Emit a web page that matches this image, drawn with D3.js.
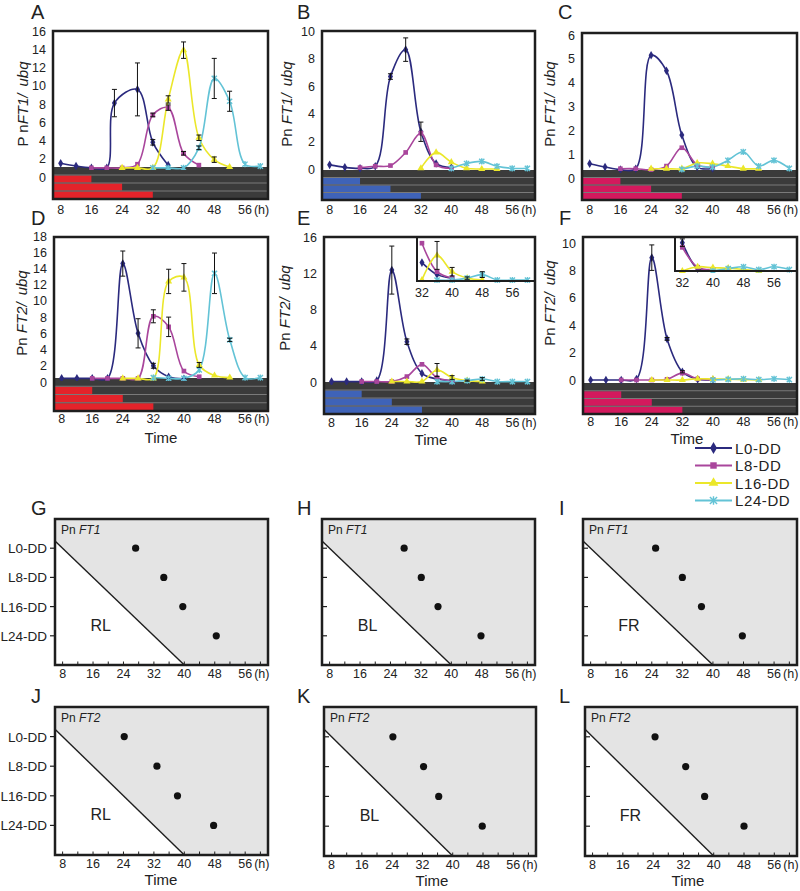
<!DOCTYPE html>
<html><head><meta charset="utf-8">
<script src="https://cdn.jsdelivr.net/npm/d3@7"></script>
<style>body{margin:0;background:#fff}</style>
</head><body><script>
// ---------------- DATA ----------------
const seriesNames = ["L0-DD","L8-DD","L16-DD","L24-DD"];
const xTickHours = [8,16,24,32,40,48,56];
const insetTickHours = [32,40,48,56];
const lightEnd = [null,16,24,32];          // end of light period per row (L0-DD: no light)
const boundaryHours = [8,16,24,32,40];      // light-off boundary line in G-L
// time courses: [hour, value, error]
const A_L0 = [[8,1.5],[12,1.2],[16,1.0],[20,1.0],[22,8.1,1.5],[28,9.6,2.9],[32,3.8,0.3],[36,1.3]];
const A_L8 = [[16,1.0],[20,1.0],[24,1.0],[28,1.4],[32,6.8,0.2],[36,7.6,0.3],[40,2.6,0.2],[44,1.3]];
const A_L16 = [[24,1.0],[28,1.0],[32,1.0],[36,8.5,0.4],[40,13.9,0.9],[44,4.3,0.3],[48,1.9,0.3],[52,1.1]];
const A_L24 = [[32,1.0],[36,1.0],[40,1.0],[44,3.2,0.2],[48,10.8,2.2],[52,8.3,1.1],[56,1.4],[60,1.2]];

const B_L0 = [[8,0.3],[12,0.12],[16,0.05],[20,0.2],[24,6.7,0.2],[28,8.65,0.85],[32,2.7,0.7],[36,0.4],[40,0.1]];
const B_L8 = [[16,0.1],[20,0.2],[24,0.25],[28,1.2],[32,2.6],[36,0.3],[40,0.05]];
const B_L16 = [[32,0.05],[36,1.2],[40,0.5],[44,0.05],[48,0.0],[52,0.0]];
const B_L24 = [[40,0.05],[44,0.4],[48,0.55],[52,0.2],[56,0.05],[60,0.05]];

const C_L0 = [[8,0.6],[12,0.46],[16,0.35],[20,0.39],[24,5.15],[28,4.5],[32,1.8],[36,0.46],[40,0.4]];
const C_L8 = [[16,0.39],[20,0.39],[24,0.35],[28,0.5],[32,1.27],[36,0.55],[40,0.45]];
const C_L16 = [[24,0.39],[28,0.39],[32,0.39],[36,0.63],[40,0.6],[44,0.5],[48,0.39],[52,0.39]];
const C_L24 = [[32,0.36],[36,0.5],[40,0.46],[44,0.74],[48,1.1],[52,0.5],[56,0.74],[60,0.4]];

const D_L0 = [[8,0.45],[12,0.45],[16,0.45],[20,0.45],[24,14.6,1.55],[28,6.0,1.8],[32,2.0,0.3],[36,0.65],[40,0.4]];
const D_L8 = [[16,0.45],[20,0.45],[24,0.45],[28,0.45],[32,8.1,0.8],[36,6.8,1.2],[40,1.35],[44,0.65]];
const D_L16 = [[24,0.45],[28,0.45],[32,0.45],[36,12.4,1.5],[40,12.9,1.7],[44,2.1,0.3],[48,0.8],[52,0.55]];
const D_L24 = [[32,0.55],[36,0.45],[40,0.45],[44,1.5],[48,13.4,2.5],[52,5.2,0.2],[56,0.55],[60,0.55]];

const E_L0 = [[8,0.05],[12,0.05],[16,0.05],[20,0.15],[24,12.35,2.65],[28,4.45,0.3],[32,0.95],[36,0.33],[40,0.15]];
const E_L8 = [[16,0.05],[20,0.05],[24,0.05],[28,0.6],[32,1.95],[36,0.48],[40,0.15]];
const E_L16 = [[24,0.05],[28,0.05],[32,0.05],[36,1.32,0.72],[40,0.48,0.22],[44,0.15],[48,0.05]];
const E_L24 = [[36,0.05],[40,0.05],[44,0.15,0.06],[48,0.33,0.15],[52,0.05],[56,0.05],[60,0.05]];

const F_L0 = [[8,0.0],[12,0.0],[16,0.0],[20,0.07],[24,8.93,0.93],[28,3.0,0.1],[32,0.6,0.08],[36,0.05],[40,0.02]];
const F_L8 = [[16,0.0],[20,0.0],[24,0.0],[28,0.05],[32,0.5],[36,0.08],[40,0.03]];
const F_L16 = [[24,0.0],[28,0.0],[32,0.0],[36,0.09],[40,0.07],[44,0.06],[48,0.03],[52,0.0]];
const F_L24 = [[40,0.0],[44,0.05],[48,0.09],[52,0.03],[56,0.09],[60,0.03]];

// peak times (h) for L0, L8, L16, L24
const G_PEAK = [27.2,34.6,39.6,48.4];
const H_PEAK = [27.6,32.1,36.5,47.8];
const I_PEAK = [25.0,32.0,37.0,47.7];
const J_PEAK = [24.2,32.8,38.2,47.7];
const K_PEAK = [24.2,32.3,36.3,47.8];
const L_PEAK = [24.5,32.6,37.6,48.0];

const yTicksA = [0,2,4,6,8,10,12,14,16];
const yTicksB = [0,2,4,6,8,10];
const yTicksC = [0,1,2,3,4,5,6];
const yTicksD = [0,2,4,6,8,10,12,14,16,18];
const yTicksE = [0,4,8,12,16];
const yTicksF = [0,2,4,6,8,10];

// ---------------- STYLE ----------------
const FONT = '"Liberation Sans", Arial, Helvetica, sans-serif';
const COLORS = ["#2b2a7e","#a9469c","#ebe72a","#63c3d6"];
const SHAPES = ["diamond","square","triangle","times"];
const DARK = "#3b3b3b";
const FRAME = "#1e1e1e";
const HOUR_DOMAIN = [6,62];

const svg = d3.select("body").append("svg")
  .attr("width",800).attr("height",891)
  .style("font-family",FONT);

function drawMarker(g, shape, cx, cy, s, color){
  if (shape==="times"){
    g.append("path").attr("d",`M${cx-s},${cy-s}L${cx+s},${cy+s}M${cx-s},${cy+s}L${cx+s},${cy-s}M${cx},${cy-s*1.2}L${cx},${cy+s*1.2}`)
      .attr("stroke",color).attr("stroke-width",1.4).attr("fill","none");
    return;
  }
  const type = shape==="diamond"?d3.symbolDiamond:shape==="square"?d3.symbolSquare:d3.symbolTriangle;
  g.append("path").attr("d",d3.symbol().type(type).size(s*s*3.2)())
    .attr("transform",`translate(${cx},${cy})`).attr("fill",color);
}

let clipId = 0;
function clip(x0,y0,w,h){
  const id = "c"+(clipId++);
  svg.append("clipPath").attr("id",id).append("rect").attr("x",x0).attr("y",y0).attr("width",w).attr("height",h);
  return `url(#${id})`;
}

function drawSeries(g, x, y, data, minHour){
  data.forEach((ser,i)=>{
    const pts = ser.filter(d=>d[0]>=minHour);
    const line = d3.line().x(d=>x(d[0])).y(d=>y(d[1])).curve(d3.curveCatmullRom.alpha(0.5));
    g.append("path").attr("d",line(pts)).attr("fill","none").attr("stroke",COLORS[i]).attr("stroke-width",1.6);
  });
  data.forEach((ser,i)=>{
    ser.filter(d=>d[0]>=minHour).forEach(d=>{
      drawMarker(g, SHAPES[i], x(d[0]), y(d[1]), 2.6, COLORS[i]);
    });
  });
  data.forEach(ser=>{
    ser.filter(d=>d[0]>=minHour && d[2]).forEach(d=>{
      const cx=x(d[0]), y1=y(d[1]+d[2]), y2=y(d[1]-d[2]);
      g.append("path").attr("d",`M${cx},${y1}L${cx},${y2}M${cx-2.5},${y1}L${cx+2.5},${y1}M${cx-2.5},${y2}L${cx+2.5},${y2}`)
        .attr("stroke","#111").attr("stroke-width",1).attr("fill","none");
    });
  });
}

function ylabelText(x, y, prefix, gene){
  const t = svg.append("text").attr("transform",`translate(${x},${y}) rotate(-90)`)
    .attr("text-anchor","middle").attr("font-size",15).attr("fill","#222");
  t.append("tspan").text(prefix);
  t.append("tspan").attr("font-style","italic").text(gene+"/");
  t.append("tspan").attr("font-style","italic").attr("dx",7).text("ubq");
}

function letter(x,y,s){
  svg.append("text").attr("x",x).attr("y",y).attr("font-size",20).attr("fill","#222").text(s);
}

function drawTimeCourse(p){
  const g = svg.append("g");
  const x = d3.scaleLinear().domain(HOUR_DOMAIN).range([p.left,p.right]);
  const y = d3.scaleLinear().domain([0,p.ymax]).range([p.y0,p.yTopPx]);
  // light/dark band
  const rowH = (p.bandBottom-p.bandTop)/4;
  g.append("rect").attr("x",p.left).attr("y",p.bandTop).attr("width",p.right-p.left).attr("height",p.bandBottom-p.bandTop).attr("fill",DARK);
  lightEnd.forEach((h,i)=>{
    if(h!==null){
      g.append("rect").attr("x",p.left).attr("y",p.bandTop+i*rowH+0.5).attr("width",x(h)-p.left).attr("height",rowH-1).attr("fill",p.bandColor);
    }
    if(i>0) g.append("line").attr("x1",p.left).attr("x2",p.right).attr("y1",p.bandTop+i*rowH).attr("y2",p.bandTop+i*rowH).attr("stroke","#8a8a8a").attr("stroke-width",0.8);
  });
  // series
  const sg = g.append("g").attr("clip-path",clip(p.left,p.top,p.right-p.left,p.bandTop-p.top+3));
  drawSeries(sg,x,y,p.data,0);
  // inset
  if(p.inset){
    const q=p.inset;
    const yi = d3.scaleLinear().domain([0,q.ymax]).range([q.bottom,q.top]);
    g.append("rect").attr("x",q.left).attr("y",q.top).attr("width",p.right-q.left).attr("height",q.bottom-q.top).attr("fill","#fff");
    const ig = g.append("g").attr("clip-path",clip(q.left,q.top,p.right-q.left,q.bottom-q.top+2));
    drawSeries(ig,x,yi,p.data,32);
    g.append("path").attr("d",`M${q.left},${q.top}L${q.left},${q.bottom}L${p.right},${q.bottom}`)
      .attr("fill","none").attr("stroke",FRAME).attr("stroke-width",2);
    insetTickHours.forEach(h=>{
      g.append("text").attr("x",x(h)).attr("y",q.bottom+16).attr("text-anchor","middle").attr("font-size",12.5).attr("fill","#222").text(h);
    });
  }
  // frame
  g.append("rect").attr("x",p.left).attr("y",p.top).attr("width",p.right-p.left).attr("height",p.bandBottom-p.top)
    .attr("fill","none").attr("stroke",FRAME).attr("stroke-width",2.5);
  // y tick labels
  p.yTicks.forEach(v=>{
    g.append("text").attr("x",p.left-7).attr("y",y(v)+4.5).attr("text-anchor","end").attr("font-size",12.5).attr("fill","#222").text(v);
  });
  // x tick labels
  xTickHours.forEach(h=>{
    g.append("text").attr("x",x(h)).attr("y",p.xlabY).attr("text-anchor","middle").attr("font-size",12.5).attr("fill","#222").text(h);
  });
  g.append("text").attr("x",x(56)+9).attr("y",p.xlabY).attr("font-size",12.5).attr("fill","#222").text("(h)");
  ylabelText(p.ylab[0],p.ylab[1],p.prefix,p.gene);
  letter(p.letterPos[0],p.letterPos[1],p.id);
  if(p.time) svg.append("text").attr("x",p.time[0]).attr("y",p.time[1]).attr("text-anchor","middle").attr("font-size",15).attr("fill","#222").text("Time");
}

const RED="#e4232a", BLUE="#3f63b8", PINK="#d3195d";
const tcPanels = [
 {id:"A",data:[A_L0,A_L8,A_L16,A_L24],prefix:"P n",gene:"FT1",left:53,right:268,top:31,ymax:16,y0:177,yTopPx:31,yTicks:yTicksA,bandTop:167,bandBottom:199,bandColor:RED,xlabY:214,ylab:[28,104],letterPos:[31,19]},
 {id:"B",data:[B_L0,B_L8,B_L16,B_L24],prefix:"Pn ",gene:"FT1",left:322,right:535,top:31,ymax:10,y0:169,yTopPx:31,yTicks:yTicksB,bandTop:170,bandBottom:200,bandColor:BLUE,xlabY:214,ylab:[292,104],letterPos:[297,19]},
 {id:"C",data:[C_L0,C_L8,C_L16,C_L24],prefix:"Pn ",gene:"FT1",left:582,right:797,top:33,ymax:6,y0:178,yTopPx:35,yTicks:yTicksC,bandTop:170,bandBottom:200,bandColor:PINK,xlabY:214,ylab:[555,104],letterPos:[558,19]},
 {id:"D",data:[D_L0,D_L8,D_L16,D_L24],prefix:"Pn ",gene:"FT2",left:54,right:268,top:237,ymax:18,y0:382,yTopPx:236,yTicks:yTicksD,bandTop:378,bandBottom:411,bandColor:RED,xlabY:423,ylab:[27,313],letterPos:[31,225],time:[161,443]},
 {id:"E",data:[E_L0,E_L8,E_L16,E_L24],prefix:"Pn ",gene:"FT2",left:324,right:535,top:237,ymax:16,y0:382,yTopPx:237,yTicks:yTicksE,bandTop:382,bandBottom:414,bandColor:BLUE,xlabY:427,ylab:[290,308],letterPos:[297,225],time:[431,445],
   inset:{left:417,top:237,bottom:281,ymax:2.27}},
 {id:"F",data:[F_L0,F_L8,F_L16,F_L24],prefix:"Pn ",gene:"FT2",left:583,right:797,top:237,ymax:10,y0:380,yTopPx:243,yTicks:yTicksF,bandTop:383,bandBottom:414,bandColor:PINK,xlabY:426,ylab:[555,303],letterPos:[559,225],time:[687,444]}
];
tcPanels[5].inset = {left:675,top:237,bottom:271,ymax:0.72};
tcPanels.forEach(drawTimeCourse);

// legend
const lg = svg.append("g");
seriesNames.forEach((n,i)=>{
  const yy = 448 + i*17.5;
  lg.append("line").attr("x1",695).attr("x2",732).attr("y1",yy).attr("y2",yy).attr("stroke",COLORS[i]).attr("stroke-width",2);
  drawMarker(lg,SHAPES[i],713.5,yy,3.6,COLORS[i]);
  lg.append("text").attr("x",735).attr("y",yy+5.5).attr("font-size",15).attr("letter-spacing",0.6).attr("fill","#222").text(n);
});

// ---------------- PHASE PANELS ----------------
function drawPhase(p){
  const g = svg.append("g");
  const x = d3.scaleLinear().domain(HOUR_DOMAIN).range([p.left,p.right]);
  const y = d3.scaleLinear().domain([-1,4]).range([p.top,p.bottom]);
  const rowOfHour = d3.scaleLinear().domain([boundaryHours[0],boundaryHours[4]]).range([0,4]);
  const h0 = HOUR_DOMAIN[0], h1 = HOUR_DOMAIN[1];
  const r0 = rowOfHour(h0);
  g.append("rect").attr("x",p.left).attr("y",p.top).attr("width",p.right-p.left).attr("height",p.bottom-p.top).attr("fill","#fff");
  g.append("path").attr("d",`M${x(h0)},${y(r0)}L${x(boundaryHours[4])},${y(4)}L${x(h1)},${y(4)}L${x(h1)},${y(-1)}L${x(h0)},${y(-1)}Z`).attr("fill","#e4e4e4");
  g.append("line").attr("x1",x(h0)).attr("y1",y(r0)).attr("x2",x(boundaryHours[4])).attr("y2",y(4)).attr("stroke","#1e1e1e").attr("stroke-width",1.4);
  p.peaks.forEach((h,i)=>{
    g.append("circle").attr("cx",x(h)).attr("cy",y(i)).attr("r",3.6).attr("fill","#111");
  });
  // x ticks inward every 4 h
  d3.range(8,61,4).forEach(h=>{
    g.append("line").attr("x1",x(h)).attr("x2",x(h)).attr("y1",p.bottom).attr("y2",p.bottom-3.5).attr("stroke",FRAME).attr("stroke-width",1);
  });
  // y ticks
  seriesNames.forEach((n,i)=>{
    if(p.rowLabels){
      g.append("line").attr("x1",p.left-5).attr("x2",p.left).attr("y1",y(i)).attr("y2",y(i)).attr("stroke",FRAME).attr("stroke-width",1.2);
      g.append("text").attr("x",p.left-8).attr("y",y(i)+5).attr("text-anchor","end").attr("font-size",13.5).attr("fill","#222").text(n);
    } else {
      g.append("line").attr("x1",p.left).attr("x2",p.left+5).attr("y1",y(i)).attr("y2",y(i)).attr("stroke",FRAME).attr("stroke-width",1.2);
    }
  });
  g.append("rect").attr("x",p.left).attr("y",p.top).attr("width",p.right-p.left).attr("height",p.bottom-p.top)
    .attr("fill","none").attr("stroke",FRAME).attr("stroke-width",2.5);
  xTickHours.forEach(h=>{
    g.append("text").attr("x",x(h)).attr("y",p.bottom+13).attr("text-anchor","middle").attr("font-size",12.5).attr("fill","#222").text(h);
  });
  g.append("text").attr("x",x(56)+9).attr("y",p.bottom+13).attr("font-size",12.5).attr("fill","#222").text("(h)");
  const t = g.append("text").attr("x",p.left+6).attr("y",p.top+15).attr("font-size",12).attr("fill","#222");
  t.append("tspan").text("Pn ");
  t.append("tspan").attr("font-style","italic").text(p.gene);
  g.append("text").attr("x",x(18)).attr("y",y(2.63)+6).attr("text-anchor","middle").attr("font-size",16).attr("fill","#222").text(p.region);
  letter(p.letterPos[0],p.letterPos[1],p.id);
  if(p.time) g.append("text").attr("x",p.time).attr("y",p.bottom+30).attr("text-anchor","middle").attr("font-size",15).attr("fill","#222").text("Time");
}

const phasePanels = [
 {id:"G",peaks:G_PEAK,gene:"FT1",region:"RL",left:55,right:268,top:519,bottom:665,rowLabels:true,letterPos:[31,515]},
 {id:"H",peaks:H_PEAK,gene:"FT1",region:"BL",left:322,right:535,top:519,bottom:665,rowLabels:false,letterPos:[297,515]},
 {id:"I",peaks:I_PEAK,gene:"FT1",region:"FR",left:583,right:797,top:519,bottom:665,rowLabels:false,letterPos:[559,515]},
 {id:"J",peaks:J_PEAK,gene:"FT2",region:"RL",left:55,right:268,top:707,bottom:855,rowLabels:true,letterPos:[31,703],time:161},
 {id:"K",peaks:K_PEAK,gene:"FT2",region:"BL",left:324,right:536,top:707,bottom:856,rowLabels:false,letterPos:[297,703],time:432},
 {id:"L",peaks:L_PEAK,gene:"FT2",region:"FR",left:585,right:797,top:707,bottom:856,rowLabels:false,letterPos:[559,703],time:688}
];
phasePanels.forEach(drawPhase);
</script></body></html>
